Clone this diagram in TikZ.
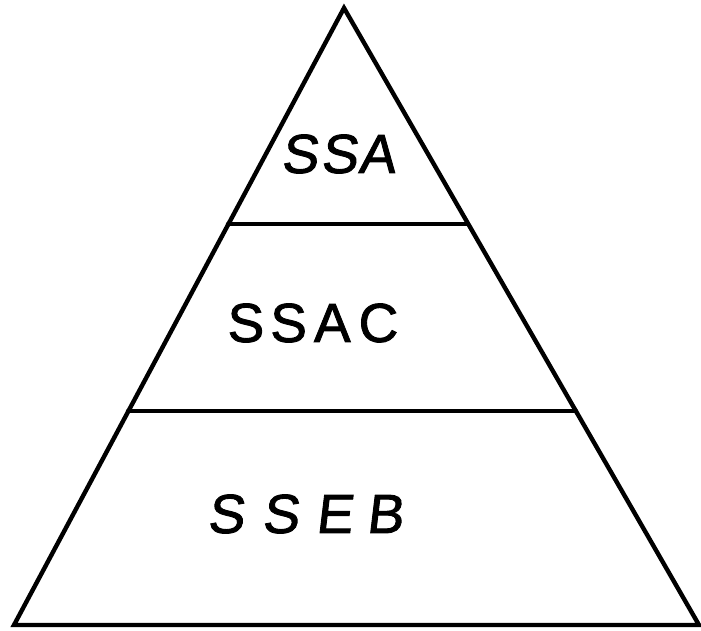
\documentclass[tikz,border=0pt]{standalone}
\usepackage{fontspec}
\setmainfont{Liberation Sans}
\newfontfamily\handslant[FakeSlant=0.12,FakeBold=1.6]{Liberation Sans}
\newfontfamily\handup[FakeBold=1.6]{Liberation Sans}
\begin{document}
\begin{tikzpicture}[x=1pt,y=-1pt,
  edge/.style={line width=4.4pt,line join=miter,line cap=round},
  label/.style={inner sep=0pt,font=\fontsize{55}{55}\selectfont}]
\useasboundingbox (0,0) rectangle (701,630);
% corners of the pyramid
\coordinate (apex) at (344,8);
\coordinate (bl) at (14,625);
\coordinate (br) at (699,625);
% dividing levels
\coordinate (l1a) at (228,224);
\coordinate (l1b) at (467,224);
\coordinate (l2a) at (128,411);
\coordinate (l2b) at (576,411);
\draw[edge] (apex) -- (bl) -- (br) -- cycle;
\draw[edge] (l1a) -- (l1b);
\draw[edge] (l2a) -- (l2b);
% level names
\node[label] (ssa) at (338,154) {\handslant S\kern3pt S\kern1pt A};
\node[label] (ssac) at (313,323) {\handup S\kern6pt S\kern7pt A\kern8pt C};
\node[label] (sseb) at (305,514) {\handslant S\kern18pt S\kern17pt E\kern14pt B};
\end{tikzpicture}
\end{document}
